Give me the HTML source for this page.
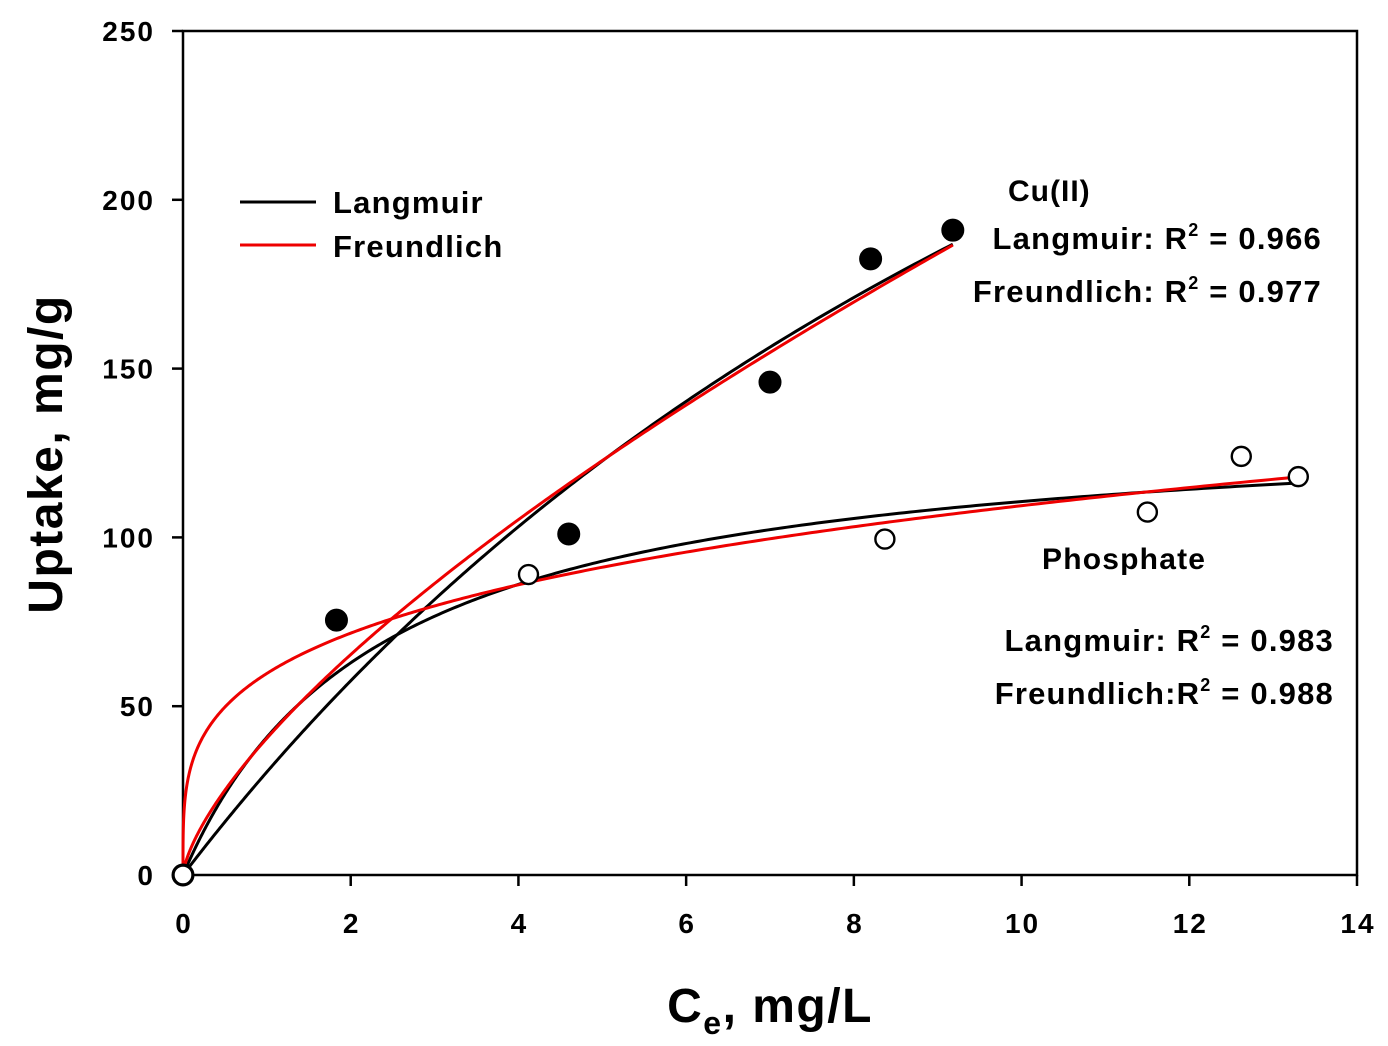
<!DOCTYPE html>
<html><head><meta charset="utf-8"><style>
html,body{margin:0;padding:0;background:#fff;}
svg{display:block;font-family:"Liberation Sans",Arial,sans-serif;font-weight:bold;}
</style></head><body>
<svg id="chart" width="1388" height="1046" viewBox="0 0 1388 1046"></svg>
<script>
const cuX=[0,1.83,4.6,7.0,8.2,9.18];
const cuY=[0,75.5,101,146,182.5,191];
const phX=[0,4.12,8.37,11.5,12.62,13.3];
const phY=[0,89,99.5,107.5,124,118];
const xTicks=[0,2,4,6,8,10,12,14];
const yTicks=[0,50,100,150,200,250];
const cuLang=[500,0.065];   // qm, K
const cuFreu=[40.5,0.689];  // Kf, 1/n
const phLang=[136.6,0.426];
const phFreu=[59.7,0.263];
const cuMax=9.18, phMax=13.3;

const NS="http://www.w3.org/2000/svg";
const svg=document.getElementById('chart');
const X0=183,X1=1357,Y0=875,Y1=31;
const sx=v=>X0+(v/14)*(X1-X0);
const sy=v=>Y0-(v/250)*(Y0-Y1);
function mk(tag,attrs,parent){const e=document.createElementNS(NS,tag);for(const k in attrs)e.setAttribute(k,attrs[k]);(parent||svg).appendChild(e);return e;}

const frame=mk('rect',{x:X0,y:Y1,width:X1-X0,height:Y0-Y1,fill:'none',stroke:'#000','stroke-width':2.5});



xTicks.forEach(t=>{
  const l=mk('line',{x1:sx(t),x2:sx(t),y1:Y0,y2:Y0+11,stroke:'#000','stroke-width':2.5});
  
  
  const tx=mk('text',{x:sx(t)+1,y:Y0+58,'text-anchor':'middle','font-size':28,'letter-spacing':2});
  tx.textContent=t;
  
  
});
yTicks.forEach(t=>{
  const l=mk('line',{x1:X0-11,x2:X0,y1:sy(t),y2:sy(t),stroke:'#000','stroke-width':2.5});
  
  
  const tx=mk('text',{x:X0-28,y:sy(t)+10,'text-anchor':'end','font-size':28,'letter-spacing':2});
  tx.textContent=t;
  
  
});

function curve(f,max,color,name){
  let d='';const n=400;
  for(let i=0;i<=n;i++){const c=max*Math.pow(i/n,2.5);d+=(i?'L':'M')+sx(c).toFixed(2)+','+sy(f(c)).toFixed(2);}
  const p=mk('path',{d:d,fill:'none',stroke:color,'stroke-width':3});
  
  
}
curve(c=>cuLang[0]*cuLang[1]*c/(1+cuLang[1]*c),cuMax,'#000','cu-langmuir-curve');
curve(c=>phLang[0]*phLang[1]*c/(1+phLang[1]*c),phMax,'#000','phosphate-langmuir-curve');
curve(c=>cuFreu[0]*Math.pow(c,cuFreu[1]),cuMax,'#e00','cu-freundlich-curve');
curve(c=>phFreu[0]*Math.pow(c,phFreu[1]),phMax,'#e00','phosphate-freundlich-curve');

cuX.forEach((v,i)=>{
  const c=mk('circle',{cx:sx(v),cy:sy(cuY[i]),r:10.5,fill:'#000',stroke:'#000','stroke-width':2});
  
  
});
phX.forEach((v,i)=>{
  const c=mk('circle',{cx:sx(v),cy:sy(phY[i]),r:9.5,fill:'#fff',stroke:'#000','stroke-width':2.4});
  
  
});

function txt(x,y,s,size,name,anchor,ls){const t=mk('text',{x:x,y:y,'font-size':size,'text-anchor':anchor||'start','letter-spacing':ls||0});t.innerHTML=s;return t;}

const l1=mk('line',{x1:240,x2:316,y1:202,y2:202,stroke:'#000','stroke-width':3});


const l2=mk('line',{x1:240,x2:316,y1:245,y2:245,stroke:'#e00','stroke-width':3});


txt(333,213,'Langmuir',31,'legend-langmuir','start',1.2);
txt(333,257,'Freundlich',31,'legend-freundlich','start',1.2);

txt(1008,201,'Cu(II)',30,'cu-label','start',1);
const sup='<tspan dy="-13" font-size="18">2</tspan><tspan dy="13">';
txt(1322,249,'Langmuir: R'+sup+' = 0.966</tspan>',31,'cu-langmuir-r2','end',1.2);
txt(1322,302,'Freundlich: R'+sup+' = 0.977</tspan>',31,'cu-freundlich-r2','end',1.2);
txt(1042,569,'Phosphate',30,'phosphate-label','start',1.2);
txt(1334,651,'Langmuir: R'+sup+' = 0.983</tspan>',31,'phosphate-langmuir-r2','end',1.2);
txt(1334,704,'Freundlich:R'+sup+' = 0.988</tspan>',31,'phosphate-freundlich-r2','end',1.2);

txt(770,1022,'C<tspan dy="12" font-size="32">e</tspan><tspan dy="-12">, mg/L</tspan>',48,'x-axis-title','middle',1.5);
const yt=txt(0,0,'Uptake, mg/g',48,'y-axis-title','middle',1.5);
yt.setAttribute('transform','translate(62,454) rotate(-90)');
</script>
</body></html>
